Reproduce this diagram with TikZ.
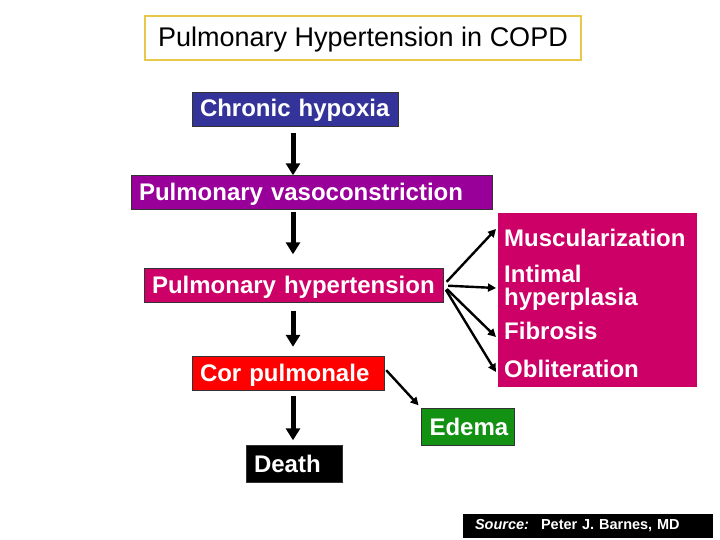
\documentclass[tikz,border=0pt]{standalone}
\usepackage{fontspec}
\setmainfont{Liberation Sans}
\usepackage{xcolor}
\definecolor{navy}{HTML}{333399}
\definecolor{violet}{HTML}{990099}
\definecolor{crimson}{HTML}{CC0066}
\definecolor{alarm}{HTML}{FF0000}
\definecolor{leaf}{HTML}{139113}
\definecolor{gold}{HTML}{E8C84A}
\usetikzlibrary{arrows.meta}

\begin{document}
\begin{tikzpicture}[x=1pt, y=-1pt,
  every node/.style={font=\bfseries\fontsize{24}{21}\selectfont},
  stage/.style={draw=black!80, text=white, inner ysep=0pt, inner xsep=8pt, align=left, minimum height=34pt, text height=20pt, text depth=4pt},
  bigarrow/.style={line width=5pt, -{Triangle[width=14pt,length=12pt]}},
  fanarrow/.style={line width=2.4pt, -{Triangle[width=8pt,length=8pt]}}]
  \useasboundingbox (0,0) rectangle (720,540);
  % Title
  \node[draw=gold, line width=1.5pt, fill=white, minimum width=436pt, minimum height=44pt, text height=22pt, text depth=4pt, font=\fontsize{27}{30}\selectfont] (title) at (363,38) {Pulmonary Hypertension in COPD};
  % Chain of stages
  \node[stage, fill=navy, text width=190pt] (hypoxia) at (295,109) {Chronic hypoxia};
  \node[stage, fill=violet, text width=345pt] (vaso) at (311.5,192.5) {Pulmonary vasoconstriction};
  \node[stage, fill=crimson, text width=283pt] (hyper) at (293.5,285.5) {Pulmonary hypertension};
  \node[stage, fill=alarm, text width=176pt] (cor) at (288,373) {Cor pulmonale};
  \node[stage, fill=black, text width=80pt, minimum height=37pt] (death) at (294,464) {Death};
  \node[stage, fill=leaf, text width=77pt, minimum height=37pt] (edema) at (468,427) {Edema};
  % Vascular changes
  \node[fill=crimson, minimum width=199pt, minimum height=174pt] (changes) at (597.5,300) {};
  \node[text=white, anchor=west, inner sep=0pt] (musc) at (504,238) {Muscularization};
  \node[text=white, anchor=west, inner sep=0pt, align=left, font=\bfseries\fontsize{24}{22.5}\selectfont] (intimal) at (504,288) {Intimal\\hyperplasia};
  \node[text=white, anchor=west, inner sep=0pt] (fibro) at (504,331) {Fibrosis};
  \node[text=white, anchor=west, inner sep=0pt] (oblit) at (504,369) {Obliteration};
  % Source
  \node[fill=black, text=white, minimum width=250pt, minimum height=24pt, text width=226pt, align=left, font=\bfseries\fontsize{14.5}{16}\selectfont] (source) at (588,526) {\textit{Source:}~ Peter J. Barnes, MD};
  % Arrows
  \draw[bigarrow, shorten <=7pt] (293,0 |- hypoxia.south) -- (293,0 |- vaso.north);
  \draw[bigarrow, shorten <=2pt, shorten >=14pt] (293,0 |- vaso.south) -- (293,0 |- hyper.north);
  \draw[bigarrow, shorten <=8pt, shorten >=9pt] (293,0 |- hyper.south) -- (293,0 |- cor.north);
  \draw[bigarrow, shorten <=6pt, shorten >=5pt] (293,0 |- cor.south) -- (293,0 |- death.north);
  \draw[fanarrow, shorten <=5pt] (hyper.east) -- ([xshift=-8pt, yshift=9pt]musc.west);
  \draw[fanarrow, shorten <=5pt] (hyper.east) -- ([xshift=-8pt]intimal.west);
  \draw[fanarrow, shorten <=5pt] (hyper.east) -- ([xshift=-8pt, yshift=-6pt]fibro.west);
  \draw[fanarrow, shorten <=5pt] (hyper.east) -- ([xshift=-8pt, yshift=-3pt]oblit.west);
  \draw[fanarrow, shorten <=3pt, shorten >=4pt] ([yshift=5pt]cor.east) -- (edema.north west);
\end{tikzpicture}
\end{document}
